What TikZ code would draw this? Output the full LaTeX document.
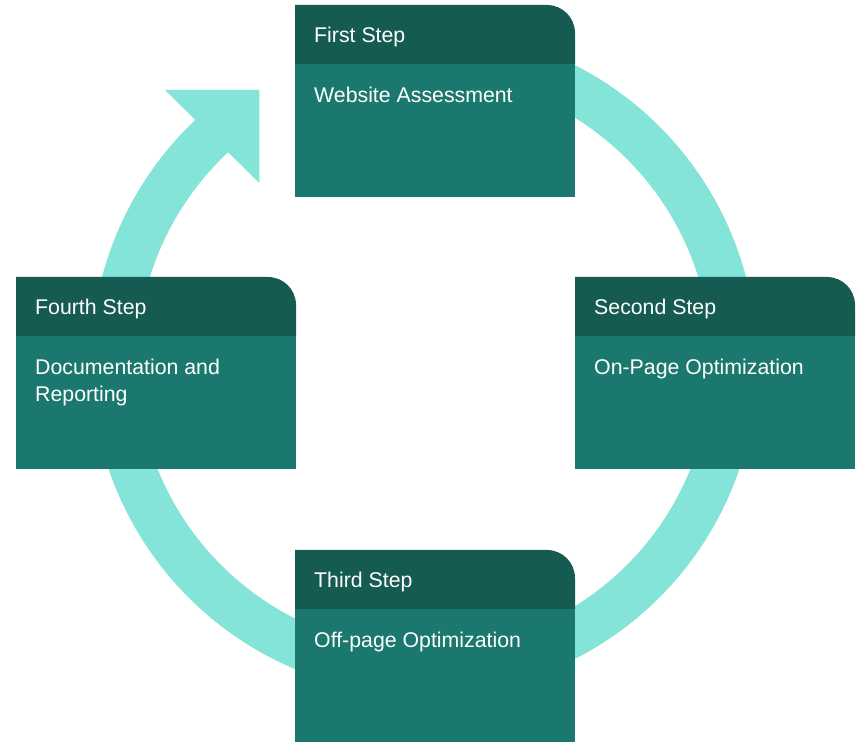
\documentclass[tikz,border=0pt]{standalone}
\usepackage{fontspec}
\setmainfont{Liberation Sans}
\definecolor{hdr}{RGB}{21,91,82}
\definecolor{bdy}{RGB}{27,120,110}
\definecolor{ringc}{RGB}{132,228,216}
\newcommand\drawstep[5]{%
  % #1 name, #2 left, #3 top, #4 header text, #5 body text
  \fill[bdy] (#2,#3-192) rectangle (#2+280,#3-59);
  \fill[hdr] (#2,#3-59) -- (#2,#3) -- (#2+252,#3) arc[start angle=90,end angle=0,radius=28] -- (#2+280,#3-59) -- cycle;
  \node[steptext] (#1h) at (#2+19,#3-38) {#4};
  \node[steptext] (#1b) at (#2+19,#3-98) {\begin{tabular}[t]{@{}l@{}}#5\end{tabular}};
}
\begin{document}
\begin{tikzpicture}[x=1pt,y=1pt,
  steptext/.style={anchor=base west,inner sep=0pt,text=white,
    font=\fontsize{21.3}{26.7}\selectfont}]
\useasboundingbox (0,0) rectangle (857,742);
% cycle ring
\coordinate (c) at (424,380);
\draw[ringc,line width=46pt] (424,690) arc[start angle=90,end angle=-227.5,radius=310];
\fill[ringc] (165,652) -- (259.3,652) -- (259.3,559) -- cycle;
% steps
\drawstep{first}{295}{737}{First Step}{Website Assessment}
\drawstep{second}{575}{465}{Second Step}{On-Page Optimization}
\drawstep{third}{295}{192}{Third Step}{Off-page Optimization}
\drawstep{fourth}{16}{465}{Fourth Step}{Documentation and\\Reporting}
\end{tikzpicture}
\end{document}
